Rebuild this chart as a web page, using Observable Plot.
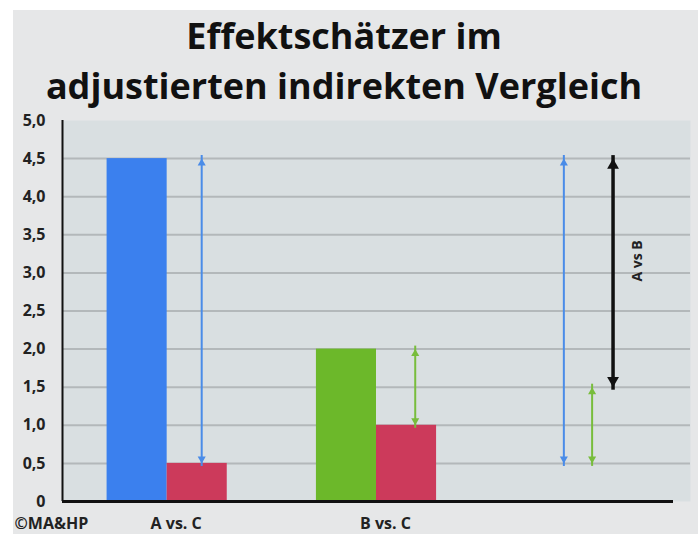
<!DOCTYPE html>
<html>
<head>
<meta charset="utf-8">
<script src="https://cdn.jsdelivr.net/npm/d3@7"></script>
<script src="https://cdn.jsdelivr.net/npm/@observablehq/plot@0.6"></script>
<style>
  html, body { margin: 0; padding: 0; background: #ffffff; }
  #wrap { position: relative; width: 698px; height: 534px; overflow: hidden; background: #ffffff; }
  #panel { position: absolute; left: 13px; top: 10px; right: 0; bottom: 0; background: #e6e7e8; }
  #title { position: absolute; left: 0; top: 11px; width: 688px; text-align: center;
           font-family: "Open Sans", Roboto, sans-serif; font-weight: 700; font-size: 36px;
           line-height: 50px; color: #111; }
  #chart { position: absolute; left: 0; top: 0; }
</style>
</head>
<body>
<div id="wrap">
  <div id="panel"></div>
  <div id="title">Effektschätzer im<br>adjustierten indirekten Vergleich</div>
  <div id="chart"></div>
</div>
<script>
// ---- data ----
const categories = ["A vs. C", "B vs. C"];
const treatment = [4.5, 2.0];     // A resp. B
const comparator = [0.5, 1.0];    // C
const yTicks = [0, 0.5, 1, 1.5, 2, 2.5, 3, 3.5, 4, 4.5, 5];
const gridValues = [0.5, 1, 1.5, 2, 2.5, 3, 3.5, 4, 4.5];
const indirectLabel = "A vs B";
const credit = "©MA&HP";

// ---- colours ----
const blue = "#3b80ee", red = "#cc3a5b", green = "#6cb82a";
const blueArrow = "#4a8ce8", greenArrow = "#78bd3c";

// ---- derived tables ----
const barW = 0.287;
const bars = categories.flatMap((c, i) => [
  {cat: c, x1: i - barW, x2: i, v: treatment[i], fill: i === 0 ? blue : green},
  {cat: c, x1: i, x2: i + barW, v: comparator[i], fill: red}
]);
const effAC = treatment[0] - comparator[0];
const effBC = treatment[1] - comparator[1];
const base = comparator[0];
const arrows = [
  {x: 0.165, y1: comparator[0], y2: treatment[0], c: blueArrow, w: 2, r: 3},
  {x: 1 + 0.185, y1: comparator[1], y2: treatment[1], c: greenArrow, w: 2, r: 3},
  {x: 1.895, y1: base, y2: base + effAC, c: blueArrow, w: 2, r: 3},
  {x: 2.03, y1: base, y2: base + effBC, c: greenArrow, w: 2, r: 3},
  {x: 2.13, y1: base + effBC, y2: base + effAC, c: "#111111", w: 3.5, r: 4.4}
];
const headTip = r => 2 * Math.sqrt(Math.PI * r * r / (Math.sqrt(3) * 3));
const fmt = d => d === 0 ? "0" : d.toFixed(1).replace(".", ",");

const font = "'Open Sans', Roboto, sans-serif";

const marks = [
  Plot.frame({fill: "#d9dfe1", stroke: null}),
  Plot.ruleY(gridValues, {stroke: "#b3b8ba", strokeWidth: 2}),
  Plot.rectY(bars, {x1: "x1", x2: "x2", y1: 0, y2: "v", fill: "fill"}),
  Plot.ruleY([0], {stroke: "#111", strokeWidth: 3, insetRight: 17}),
  Plot.ruleX([-0.5], {stroke: "#111", strokeWidth: 2}),
];
for (const a of arrows) {
  const t = headTip(a.r);
  marks.push(Plot.ruleX([a], {x: "x", y1: "y1", y2: "y2", stroke: a.c, strokeWidth: a.w, insetTop: 3, insetBottom: 3}));
  marks.push(Plot.dot([a], {x: "x", y: "y2", symbol: "triangle", r: a.r, fill: a.c, stroke: null, dy: t}));
  marks.push(Plot.dot([a], {x: "x", y: "y1", symbol: "triangle", r: a.r, fill: a.c, stroke: null, rotate: 180, dy: -t}));
}
marks.push(
  Plot.text([indirectLabel], {x: 2.245, y: (base + effBC + base + effAC) / 2, text: d => d, rotate: -90,
    fontSize: 14, fontWeight: "bold", fill: "#222", dy: -12}),
  Plot.axisY({ticks: yTicks, tickFormat: fmt, tickSize: 0, tickPadding: 17,
    fontSize: 16, fontWeight: "bold", fill: "#222", label: null}),
  Plot.text(categories, {x: (d, i) => i, y: 0, text: d => d, dy: 22, dx: 9,
    fontSize: 16, fontWeight: "bold", fill: "#222"}),
  Plot.text([credit], {x: -0.5, y: 0, text: d => d, dy: 22, dx: -48, textAnchor: "start",
    fontSize: 16, fontWeight: "bold", fill: "#222"})
);

const chart = Plot.plot({
  width: 698,
  height: 534,
  marginTop: 120,
  marginBottom: 33,
  marginLeft: 62,
  marginRight: 8,
  style: {background: "transparent", fontFamily: font, color: "#222"},
  x: {domain: [-0.5, 2.5], axis: null},
  y: {domain: [0, 5], axis: null},
  marks
});
document.getElementById("chart").appendChild(chart);
</script>
</body>
</html>
